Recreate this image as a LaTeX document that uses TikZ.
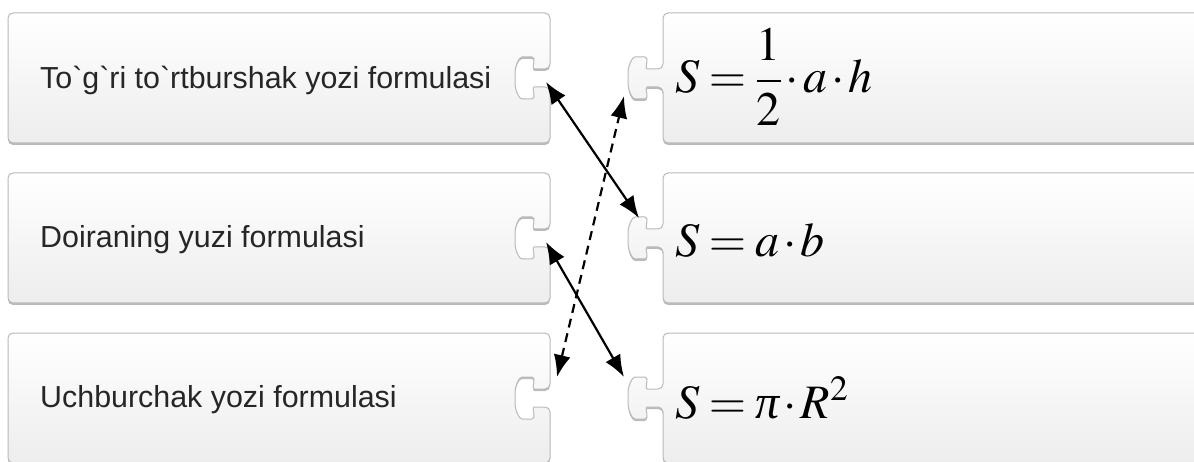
\documentclass[tikz,border=0pt]{standalone}
\usepackage{mathptmx}
\usepackage[no-math]{fontspec}
\newfontfamily\lsans{Liberation Sans}
\newfontfamily\lserif{Liberation Serif}
\usetikzlibrary{arrows.meta,shadows}
\newcommand\tightmath{\thickmuskip=3.5mu\medmuskip=1.5mu}
\tikzset{
  piece/.style={draw=gray!55, line width=1pt, rounded corners=5pt, top color=white, bottom color=gray!14,
    drop shadow={shadow xshift=0pt, shadow yshift=-2pt, opacity=.45, fill=gray!80!black}},
  lbl/.style={font=\lsans\fontsize{30.4}{34}\selectfont, text=black!85, inner sep=0pt},
  frm/.style={font=\fontsize{48}{56}\selectfont, inner sep=0pt},
  link/.style={<->, line width=2.2pt},
}
\begin{document}
\begin{tikzpicture}[x=1pt, y=-1pt, line join=round, >={Latex[length=22pt,width=17pt]}]
	\useasboundingbox (0,0) rectangle (1194,462);
	\clip (0,0) rectangle (1194,462);
	% puzzle pieces: left with notch, right with knob
	\foreach \c in {78,238,398}{
	\path[piece] (8,\c-65) -- (550,\c-65) -- (550,\c-9) -- (539,\c-9) .. controls (531,\c-9) and (537,\c-21) .. (527,\c-21)
	  .. controls (519,\c-21) and (515,\c-12) .. (515,\c) .. controls (515,\c+12) and (519,\c+21) .. (527,\c+21)
	  .. controls (537,\c+21) and (531,\c+9) .. (539,\c+9) -- (550,\c+9) -- (550,\c+65) -- (8,\c+65) -- cycle;
	\path[piece] (663,\c-65) -- (1210,\c-65) -- (1210,\c+65) -- (663,\c+65) -- (663,\c+9) -- (652,\c+9)
	  .. controls (644,\c+9) and (650,\c+21) .. (640,\c+21) .. controls (632,\c+21) and (628,\c+12) .. (628,\c)
	  .. controls (628,\c-12) and (632,\c-21) .. (640,\c-21) .. controls (650,\c-21) and (644,\c-9) .. (652,\c-9)
	  -- (663,\c-9) -- cycle;
	}
	\node[lbl, anchor=west] (rect) at (40,80) {To`g`ri to`rtburshak yozi formulasi};
	\node[lbl, anchor=west] (circ) at (40,240) {Doiraning yuzi formulasi};
	\node[lbl, anchor=west] (tri) at (40,400) {Uchburchak yozi formulasi};
	\node[frm, anchor=base west] (ftri) at (675,93) {\tightmath$\displaystyle S=\frac{1}{2}\cdot a\cdot h$};
	\node[frm, anchor=base west] (frect) at (675,257) {\tightmath$S=a\cdot b$};
	\node[frm, anchor=base west] (fcirc) at (675,418) {\tightmath$S=\mbox{\lserif\itshape π}\cdot R^2$};
	% ends of the links
	\coordinate (rect-l) at (546,82);
	\coordinate (rect-r) at (639,218);
	\coordinate (circ-l) at (546,242);
	\coordinate (circ-r) at (624,377);
	\coordinate (tri-l) at (557,377);
	\coordinate (tri-r) at (624,96);
	\draw[link] (rect-l) -- (rect-r);
	\draw[link] (circ-l) -- (circ-r);
	\draw[link, dash pattern=on 9pt off 6pt] (tri-l) -- (tri-r);
\end{tikzpicture}
\end{document}
